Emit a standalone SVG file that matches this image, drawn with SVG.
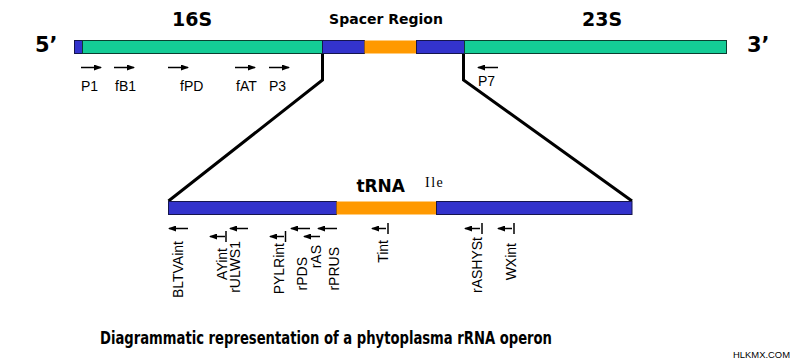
<svg xmlns="http://www.w3.org/2000/svg" width="800" height="363" viewBox="0 0 800 363">
<style>
.green{fill:#14cc96;stroke:#0b3d30;stroke-width:1}
.blue{fill:#3333cc;stroke:#15154d;stroke-width:1}
.orange{fill:#ff9900;stroke:none}
.big{font-family:"DejaVu Sans",sans-serif;font-weight:bold;fill:#000}
.lbl{font-family:"Liberation Sans",Arial,sans-serif;font-size:14px;fill:#000}
.arr{stroke:#000;stroke-width:1.5;fill:none;marker-end:url(#ah)}
.tick{stroke:#000;stroke-width:1.5}
.conn{stroke:#000;stroke-width:3;fill:none;stroke-linejoin:miter}
</style>
<defs>
<marker id="ah" markerUnits="userSpaceOnUse" markerWidth="8" markerHeight="6" refX="7" refY="3" orient="auto">
<path d="M0,0 L8,3 L0,6 z" fill="#000"/>
</marker>
</defs>
<rect width="800" height="363" fill="#fff"/>

<g id="operon">
<rect class="blue" x="74.5" y="40.5" width="8" height="13"/>
<rect class="green" x="82.5" y="40.5" width="240" height="13"/>
<rect class="blue" x="322.5" y="40.5" width="42" height="13"/>
<rect class="orange" x="364.5" y="40.5" width="52" height="13"/>
<rect class="blue" x="416.5" y="40.5" width="48" height="13"/>
<rect class="green" x="464.5" y="40.5" width="262" height="13"/>
</g>

<g id="labels-top">
<text class="big" x="35" y="52" font-size="21">5’</text>
<text class="big" x="747" y="52" font-size="21">3’</text>
<text class="big" x="192" y="26" font-size="19" text-anchor="middle">16S</text>
<text class="big" x="602" y="26" font-size="19" text-anchor="middle">23S</text>
<text class="big" x="386" y="24" font-size="14" text-anchor="middle">Spacer Region</text>
</g>

<g id="primers-top">
<line class="arr" x1="81" y1="67.5" x2="101" y2="67.5"/>
<line class="arr" x1="114" y1="67.5" x2="134" y2="67.5"/>
<line class="arr" x1="168" y1="67.5" x2="188" y2="67.5"/>
<line class="arr" x1="235" y1="67.5" x2="255" y2="67.5"/>
<line class="arr" x1="269" y1="67.5" x2="289" y2="67.5"/>
<line class="arr" x1="498" y1="67.5" x2="478" y2="67.5"/>
<text class="lbl" x="81" y="91">P1</text>
<text class="lbl" x="115" y="91">fB1</text>
<text class="lbl" x="180" y="91">fPD</text>
<text class="lbl" x="236" y="91">fAT</text>
<text class="lbl" x="269" y="91">P3</text>
<text class="lbl" x="478" y="86">P7</text>
</g>

<g id="connectors">
<polyline class="conn" points="322.5,54 322.5,80 168.5,201"/>
<polyline class="conn" points="463.5,54 463.5,80 632,201"/>
</g>

<g id="spacer">
<rect class="blue" x="168.5" y="201.5" width="168" height="13"/>
<rect class="orange" x="336.5" y="201.5" width="100" height="13"/>
<rect class="blue" x="436.5" y="201.5" width="195.5" height="13"/>
<text class="big" x="405" y="192" font-size="17" text-anchor="end">tRNA</text>
<text x="425" y="187" font-family="'Liberation Serif',serif" font-size="14" letter-spacing="1.5">Ile</text>
</g>

<g id="primers-bottom">
<line class="arr" x1="188" y1="228.5" x2="169" y2="228.5"/>
<line class="arr" x1="225" y1="236.5" x2="210" y2="236.5"/>
<line class="tick" x1="226" y1="231" x2="226" y2="242"/>
<line class="arr" x1="248" y1="228.5" x2="230" y2="228.5"/>
<line class="arr" x1="284" y1="236.5" x2="270" y2="236.5"/>
<line class="tick" x1="285.5" y1="231" x2="285.5" y2="242"/>
<line class="arr" x1="310" y1="228.5" x2="291" y2="228.5"/>
<line class="arr" x1="320" y1="236.5" x2="304" y2="236.5"/>
<line class="arr" x1="337" y1="228.5" x2="318" y2="228.5"/>
<line class="arr" x1="386" y1="228.5" x2="372" y2="228.5"/>
<line class="tick" x1="388" y1="223" x2="388" y2="234"/>
<line class="arr" x1="480" y1="228.5" x2="465" y2="228.5"/>
<line class="tick" x1="482" y1="223" x2="482" y2="234"/>
<line class="arr" x1="512" y1="228.5" x2="498" y2="228.5"/>
<line class="tick" x1="514" y1="223" x2="514" y2="234"/>

<text class="lbl" transform="translate(183,241) rotate(-90)" text-anchor="end">BLTVAint</text>
<text class="lbl" transform="translate(227,248) rotate(-90)" text-anchor="end">AYint</text>
<text class="lbl" transform="translate(240,241) rotate(-90)" text-anchor="end">rULWS1</text>
<text class="lbl" transform="translate(284,243) rotate(-90)" text-anchor="end">PYLRint</text>
<text class="lbl" transform="translate(307,257) rotate(-90)" text-anchor="end">rPDS</text>
<text class="lbl" transform="translate(321,245) rotate(-90)" text-anchor="end">rAS</text>
<text class="lbl" transform="translate(339,247) rotate(-90)" text-anchor="end">rPRUS</text>
<text class="lbl" transform="translate(388,240) rotate(-90)" text-anchor="end">Tint</text>
<text class="lbl" transform="translate(482,237) rotate(-90)" text-anchor="end">rASHYSt</text>
<text class="lbl" transform="translate(516,243) rotate(-90)" text-anchor="end">WXint</text>
</g>

<g id="caption">
<text x="100" y="344" font-family="'DejaVu Sans Condensed','DejaVu Sans',sans-serif" font-weight="bold" font-size="17" textLength="452" lengthAdjust="spacingAndGlyphs">Diagrammatic representation of a phytoplasma rRNA operon</text>
<text x="733" y="358" font-family="'Liberation Sans',sans-serif" font-size="9.5" textLength="57" lengthAdjust="spacingAndGlyphs">HLKMX.COM</text>
</g>
</svg>
